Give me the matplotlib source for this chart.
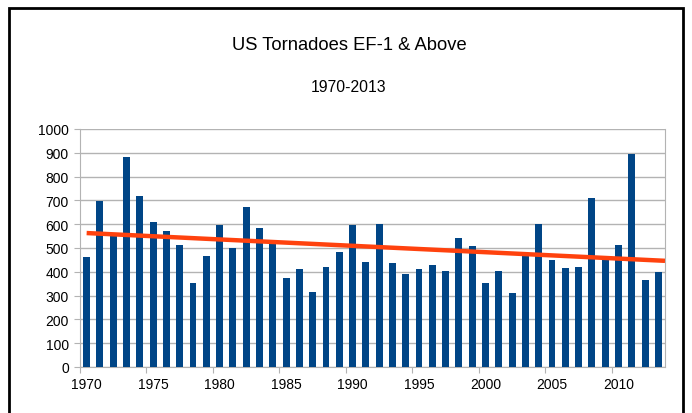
import numpy as np
import matplotlib
matplotlib.use("Agg")
import matplotlib.pyplot as plt
from matplotlib.patches import Rectangle

years = list(range(1970, 2014))
counts = [461, 698, 552, 883, 719, 608, 573, 513, 351, 468,
          598, 499, 673, 582, 525, 376, 411, 314, 419, 485,
          596, 443, 599, 439, 390, 413, 429, 405, 541, 508,
          351, 405, 310, 468, 601, 450, 415, 422, 708, 450,
          513, 897, 365, 401]
title = "US Tornadoes EF-1 & Above"
subtitle = "1970-2013"
yticks = list(range(0, 1001, 100))
xtick_labels = list(range(1970, 2011, 5))

plt.rcParams['font.family'] = ['Liberation Sans', 'DejaVu Sans']

fig = plt.figure(figsize=(6.92, 4.14), dpi=100)
W, H = 692, 414
ax = fig.add_axes([80 / W, 1 - 368 / H, (665 - 80) / W, (368 - 130) / H])

ax.bar(years, counts, width=0.52, color='#004586', zorder=3)

coef = np.polyfit(years, counts, 1)
xs = np.array([years[0], years[-1] + 0.5])
ax.plot(xs, np.polyval(coef, xs), color='#FF420E', lw=3.2, zorder=4,
        solid_capstyle='butt')

ax.set_xlim(years[0] - 0.5, years[-1] + 0.5)
ax.set_ylim(0, 1000)
ax.set_yticks(yticks)
ax.set_yticklabels([str(v) for v in yticks], fontsize=10)
ax.yaxis.grid(True, color='#b3b3b3', lw=1, zorder=0)

ax.set_xticks([y - 0.5 for y in xtick_labels])
ax.set_xticklabels([])
ax.set_xticks(xtick_labels, minor=True)
ax.set_xticklabels([str(v) for v in xtick_labels], minor=True, fontsize=10)
ax.tick_params(axis='x', which='minor', length=0, pad=7)
ax.tick_params(axis='x', which='major', length=4, color='#b3b3b3', direction='out')
ax.tick_params(axis='y', length=4, color='#b3b3b3', pad=4)

for s in ['left', 'bottom', 'right', 'top']:
    ax.spines[s].set_color('#b3b3b3')
ax.spines['top'].set_visible(False)

fig.text(349 / W, 1 - 45 / H, title, ha='center', va='center', fontsize=13.2)
fig.text(349 / W, 1 - 88 / H, subtitle, ha='center', va='center', fontsize=11.3)

# outer black frame
fig.add_artist(Rectangle((9 / W, -0.05), (683 - 9) / W, 1 - 9 / H + 0.05,
                         transform=fig.transFigure, fill=False,
                         edgecolor='black', lw=2))

fig.savefig("out.png", dpi=100)
